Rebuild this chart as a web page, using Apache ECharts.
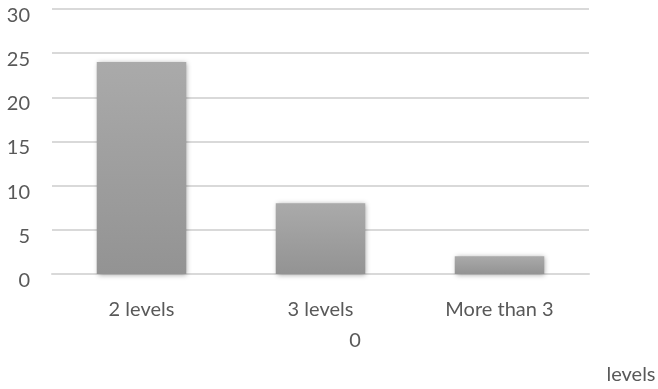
<!DOCTYPE html>
<html>
<head>
<meta charset="utf-8">
<style>
  html, body { margin: 0; padding: 0; background: #ffffff; }
  #chart { width: 658px; height: 389px; }
</style>
<script src="https://cdn.jsdelivr.net/npm/echarts@6/dist/echarts.min.js"></script>
</head>
<body>
<div id="chart"></div>
<script>
// Number of hierarchy levels
const categories = ['2 levels', '3 levels', 'More than 3'];
const counts = [24, 8, 2];
const yTicks = { min: 0, max: 30, interval: 5 };
// Loose pieces of the wrapped axis caption
const strayLabels = ['0', 'levels'];

const FONT = 'Lato, "Open Sans", sans-serif';
const TEXT = '#595959';
const SIZE = 20;

const chart = echarts.init(document.getElementById('chart'), null, { renderer: 'canvas' });

chart.setOption({
  animation: false,
  grid: { left: 52, right: 69, top: 9, bottom: 115, containLabel: false },
  xAxis: {
    type: 'category',
    data: categories,
    axisTick: { show: false },
    axisLine: { show: true, lineStyle: { color: '#d9d9d9', width: 2 } },
    axisLabel: { color: TEXT, fontFamily: FONT, fontSize: SIZE, margin: 26 }
  },
  yAxis: {
    type: 'value',
    min: yTicks.min,
    max: yTicks.max,
    interval: yTicks.interval,
    axisLine: { show: false },
    axisTick: { show: false },
    splitLine: { lineStyle: { color: '#d9d9d9', width: 2 } },
    axisLabel: {
      color: TEXT, fontFamily: FONT, fontSize: SIZE, margin: 22,
      verticalAlign: 'top', lineHeight: 13
    }
  },
  series: [{
    type: 'bar',
    data: counts,
    barWidth: '50%',
    itemStyle: {
      color: new echarts.graphic.LinearGradient(0, 0, 0, 1, [
        { offset: 0, color: '#aaaaaa' },
        { offset: 1, color: '#939393' }
      ]),
      shadowColor: 'rgba(0,0,0,0.35)',
      shadowBlur: 5,
      shadowOffsetX: 1,
      shadowOffsetY: 1
    }
  }],
  graphic: [
    {
      type: 'text', x: 355, y: 341,
      style: {
        text: strayLabels[0], fill: TEXT, fontFamily: FONT, fontSize: SIZE,
        align: 'center', verticalAlign: 'middle'
      }
    },
    {
      type: 'text', x: 631, y: 375,
      style: {
        text: strayLabels[1], fill: TEXT, fontFamily: FONT, fontSize: SIZE,
        align: 'center', verticalAlign: 'middle'
      }
    }
  ]
});
</script>
</body>
</html>
